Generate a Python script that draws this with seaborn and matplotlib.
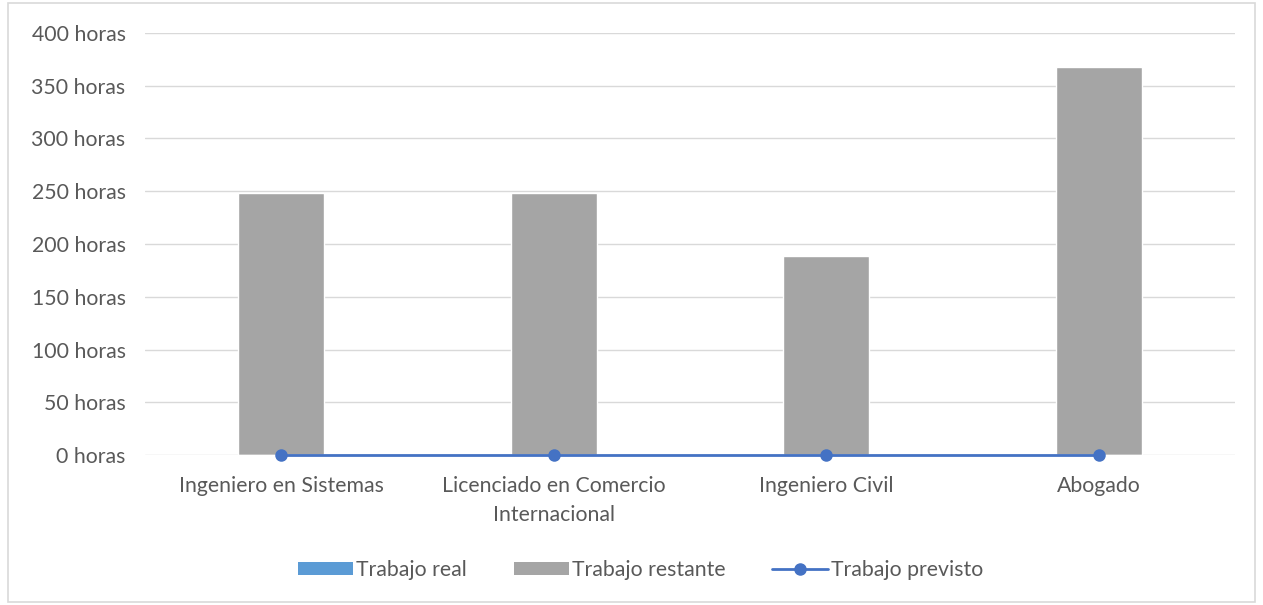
import matplotlib
matplotlib.use("Agg")
import matplotlib.pyplot as plt
import seaborn as sns
import pandas as pd
from matplotlib.patches import Patch, Rectangle
from matplotlib.lines import Line2D

categorias = ["Ingeniero en Sistemas", "Licenciado en Comercio\nInternacional",
              "Ingeniero Civil", "Abogado"]
trabajo_real = [0, 0, 0, 0]
trabajo_restante = [248, 248, 189, 368]
trabajo_previsto = [0, 0, 0, 0]
y_ticks = [0, 50, 100, 150, 200, 250, 300, 350, 400]

sns.set_theme(style="white")
plt.rcParams["font.family"] = ["Lato", "DejaVu Sans"]

c_real = "#5B9BD5"
c_rest = "#A5A5A5"
c_prev = "#4472C4"
c_text = "#595959"
c_grid = "#D9D9D9"
fs = 15.3

df = pd.DataFrame({"cat": categorias, "real": trabajo_real,
                   "rest": trabajo_restante, "prev": trabajo_previsto})

fig = plt.figure(figsize=(12.63, 6.05), dpi=100)
ax = fig.add_axes([0.1148, 0.2479, 0.8630, 0.6976])

# Stacked columns: actual work (all zero) with remaining work on top
sns.barplot(data=df, x="cat", y="rest", color=c_rest, width=0.315,
            saturation=1, ax=ax)
sns.barplot(data=df, x="cat", y="real", color=c_real, width=0.315,
            saturation=1, ax=ax)

# Planned work as a line with markers, kept above the bars
n_lines = len(ax.lines)
n_coll = len(ax.collections)
sns.pointplot(data=df, x="cat", y="prev", color=c_prev, markers="o",
              markersize=7.5, linewidth=2, ax=ax)
for art in ax.lines[n_lines:] + ax.collections[n_coll:]:
    art.set_zorder(5)
    art.set_clip_on(False)

ax.set_xlim(-0.5, 3.5)
ax.set_ylim(0, 400)
ax.set_yticks(y_ticks)
ax.set_yticklabels([f"{v} horas" for v in y_ticks])
ax.set_xlabel("")
ax.set_ylabel("")
ax.grid(axis="y", color=c_grid, linewidth=1, zorder=0)
ax.set_axisbelow(True)
for s in ax.spines.values():
    s.set_visible(False)
ax.tick_params(axis="both", length=0, colors=c_text, labelsize=fs)
ax.tick_params(axis="x", pad=15)
ax.tick_params(axis="y", pad=14)
for lbl in ax.get_xticklabels():
    lbl.set_horizontalalignment("center")
    lbl.set_linespacing(1.55)

handles = [Patch(facecolor=c_real, edgecolor="none"),
           Patch(facecolor=c_rest, edgecolor="none"),
           Line2D([0], [0], color=c_prev, linewidth=2, marker="o", markersize=8)]
labels = ["Trabajo real", "Trabajo restante", "Trabajo previsto"]
fig.legend(handles, labels, loc="center", bbox_to_anchor=(0.507, 0.058), ncol=3,
           frameon=False, fontsize=fs, labelcolor=c_text, handlelength=2.6,
           handleheight=0.55, handletextpad=0.15, columnspacing=2.2)

# Light frame around the whole figure
fig.patches.append(Rectangle((0.006, 0.005), 0.988, 0.99, transform=fig.transFigure,
                             fill=False, edgecolor=c_grid, linewidth=1.2))

fig.savefig("out.png", dpi=100)
